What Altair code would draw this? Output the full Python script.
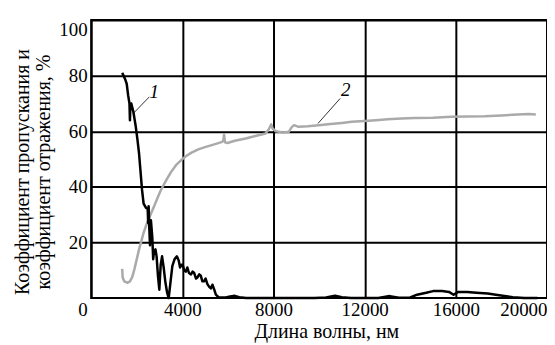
import altair as alt
import pandas as pd

# Curve 1: transmission (black)
t_x = [1360, 1420, 1500, 1560, 1620, 1680, 1700, 1720, 1760, 1850, 1950, 2030, 2100, 2160, 2230, 2300,
       2400, 2480, 2500, 2520, 2550, 2580, 2620, 2680, 2720, 2760, 2820, 2870, 2930, 2990, 3050, 3110,
       3180, 3250, 3330, 3400, 3470, 3560, 3660, 3760, 3840, 3900, 3960, 4010, 4080, 4150, 4220, 4290,
       4380, 4450, 4520, 4600, 4670, 4740, 4810, 4880, 4950, 5020, 5100, 5180, 5250, 5320, 5400, 5470,
       5600, 5900, 6100, 6300, 6500, 6800, 9800, 10300, 10700, 11000, 11400, 12600, 13100, 13500, 14000,
       14300, 14700, 15000, 15400, 15700, 15900, 16100, 16500, 16900, 17400, 17900, 18500, 19000, 19580]
t_y = [81, 80, 78.5, 77, 73, 70, 64, 69, 70, 67, 62, 57, 52, 46, 39, 34,
       32.5, 32, 27, 33, 25, 19, 28, 22, 14, 17, 17.5, 15, 8, 3, 12, 15,
       11, 6, 2, 0, 5, 11.5, 14, 15, 13.5, 11, 12, 12, 10, 9.5, 11, 9,
       8.5, 9.5, 9, 7, 7.5, 8.5, 8, 6, 6, 7, 5, 4, 3.5, 4.8, 3, 1.2,
       0.2, 0.2, 0.6, 0.8, 0.3, 0, 0, 0.2, 0.8, 0.3, 0, 0, 0.7, 0.1, 0.2,
       1.2, 1.9, 2.5, 2.5, 2.2, 1.2, 2.2, 2.2, 1.9, 1.6, 1.0, 0.3, 0, 0]

# Curve 2: reflection (grey)
r_x = [1360, 1380, 1450, 1600, 1700, 1800, 1900, 2000, 2100, 2200, 2300, 2450, 2600, 2750, 2900, 3050,
       3300, 3500, 3720, 3950, 4150, 4400, 4700, 5030, 5400, 5750, 5800, 5830, 5870, 5980, 6300, 6780,
       7200, 7650, 7800, 7900, 7960, 8100, 8400, 8668, 8800, 8900, 9100, 9500, 9980, 10500, 11000,
       11430, 12000, 12500, 13000, 13620, 14200, 15000, 15800, 16500, 17260, 18000, 18710, 19200, 19510]
r_y = [10.5, 7.5, 6, 5.5, 6, 7.5, 10.5, 14, 17.5, 20.5, 23.5, 27, 30, 32.8, 35.8, 38.7,
       42.5, 45.3, 47.8, 49.6, 51.0, 52.3, 53.5, 54.4, 55.3, 56.2, 56.8, 58.8, 56, 55.8, 56.6, 57.4,
       58.3, 59.2, 60.8, 62.5, 61, 60, 59.6, 59.8, 61.5, 62.2, 61.6, 61.8, 62.2, 62.6, 63,
       63.4, 63.7, 64, 64.3, 64.6, 64.8, 64.9, 65.2, 65.3, 65.4, 65.7, 66, 66.2, 66]

# Curve labels and leader lines
lab_text = ["1", "2"]
lab_x = [2770, 11170]
lab_y = [74.1, 74.7]
lead_x = [2554, 10925]
lead_y = [72.4, 71.8]
lead_x2 = [1869, 9950]
lead_y2 = [66.6, 62.8]

FONT = "Liberation Serif"

d1 = pd.DataFrame({"x": t_x, "y": t_y})
d2 = pd.DataFrame({"x": r_x, "y": r_y})
dl = pd.DataFrame({"t": lab_text, "x": lab_x, "y": lab_y})
dr = pd.DataFrame({"x": lead_x, "y": lead_y, "x2": lead_x2, "y2": lead_y2})

xscale = alt.Scale(domain=[0, 20000], nice=False, zero=False)
yscale = alt.Scale(domain=[0, 100], nice=False)

xaxis = alt.Axis(
    title="Длина волны, нм",
    values=[0, 4000, 8000, 12000, 16000, 20000],
    format="d",
    labelAlign={"condition": {"test": "datum.value == 0 || datum.value == 20000", "value": "right"}, "value": "center"},
    labelOffset={"condition": {"test": "datum.value == 0", "value": -4}, "value": 0},
    labelPadding=3,
    tickSize=0,
    domain=False,
    grid=True,
    gridColor="black",
    gridWidth=2,
    gridOpacity=1,
    titlePadding=2,
    titleX=236,
)
yaxis = alt.Axis(
    title=["Коэффициент пропускания и", "коэффициент отражения, %"],
    values=[20, 40, 60, 80, 100],
    labelFlush=True,
    labelPadding=4,
    tickSize=0,
    domain=False,
    grid=True,
    gridColor="black",
    gridWidth=2,
    gridOpacity=1,
    titleLineHeight=21.5,
    titleAngle=270,
    titleAlign="center",
    titleBaseline="top",
    titleX=-79,
    titleY=152,
)

line1 = alt.Chart(d1).mark_line(color="black", strokeWidth=2.5, strokeJoin="round").encode(
    x=alt.X("x:Q", scale=xscale, axis=xaxis),
    y=alt.Y("y:Q", scale=yscale, axis=yaxis),
)
line2 = alt.Chart(d2).mark_line(color="#aaaaaa", strokeWidth=2.5, strokeJoin="round").encode(
    x="x:Q", y="y:Q"
)
leads = alt.Chart(dr).mark_rule(color="black", strokeWidth=0.8).encode(
    x="x:Q", y="y:Q", x2="x2:Q", y2="y2:Q"
)
labels = alt.Chart(dl).mark_text(font=FONT, fontSize=19, fontStyle="italic", align="center", baseline="middle").encode(
    x="x:Q", y="y:Q", text="t:N"
)

chart = alt.layer(line2, line1, leads, labels).properties(
    width=457.5,
    height=279,
    background="white",
    autosize=alt.AutoSizeParams(type="none"),
    padding={"left": 83.5, "top": 11.5, "right": 0, "bottom": 46},
).configure_view(
    stroke="black", strokeWidth=2
).configure_axis(
    labelFont=FONT, labelFontSize=19, labelColor="black",
    titleFont=FONT, titleFontSize=20, titleColor="black", titleFontWeight="normal",
)

chart.save("out.html", embed_options={"renderer": "svg", "actions": False})
